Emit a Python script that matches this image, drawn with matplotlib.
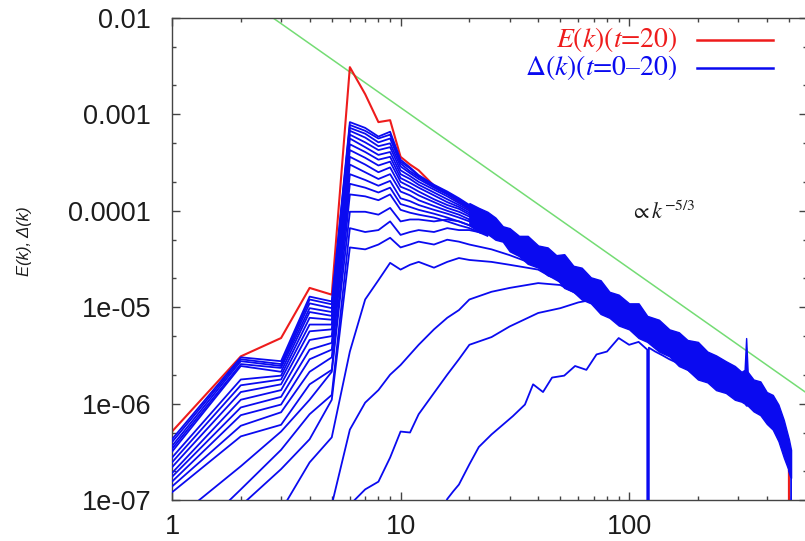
import numpy as np
import matplotlib
matplotlib.use("Agg")
import matplotlib.pyplot as plt
from matplotlib.lines import Line2D
from matplotlib.ticker import FixedLocator, NullFormatter, FixedFormatter

plt.rcParams['mathtext.fontset'] = 'stix'

# ---------------------------------------------------------------------------
# Spectra, stored as log10 of the spectral density
# ---------------------------------------------------------------------------
# energy spectrum E(k) at t = 20
k_red = [1, 2, 3, 4, 5, 6, 7, 8, 9, 10, 11, 12, 14, 16, 20, 30, 50, 100,
         200, 300, 400, 500, 512]
logE_red = [-6.29, -5.51, -5.32, -4.80, -4.87, -2.51, -2.79, -3.08, -3.06,
            -3.44, -3.52, -3.58, -3.74, -3.82, -3.99, -4.30, -4.61, -5.11,
            -5.54, -5.80, -6.01, -6.53, -30.0]

# error spectra Delta(k) for t = 8 ... 20 (low / intermediate k)
k_fan = [1, 2, 3, 4, 5, 6, 7, 8, 9, 10, 11, 12, 14, 16, 18, 20, 24]
logD_t20 = [-6.37, -5.52, -5.56, -4.89, -4.94, -3.08, -3.14, -3.23, -3.18, -3.47, -3.55, -3.63, -3.73, -3.80, -3.87, -3.94, -4.08]
logD_t19 = [-6.40, -5.54, -5.59, -4.92, -4.97, -3.11, -3.17, -3.25, -3.21, -3.49, -3.56, -3.64, -3.74, -3.81, -3.88, -3.95, -4.09]
logD_t18 = [-6.44, -5.56, -5.61, -4.96, -5.01, -3.14, -3.20, -3.29, -3.25, -3.51, -3.59, -3.65, -3.75, -3.82, -3.89, -3.96, -4.10]
logD_t17 = [-6.47, -5.59, -5.63, -5.01, -5.05, -3.17, -3.24, -3.33, -3.30, -3.54, -3.61, -3.67, -3.76, -3.83, -3.90, -3.97, -4.11]
logD_t16 = [-6.50, -5.61, -5.67, -5.05, -5.09, -3.21, -3.29, -3.37, -3.34, -3.58, -3.64, -3.70, -3.78, -3.85, -3.92, -3.98, -4.12]
logD_t15 = [-6.56, -5.75, -5.71, -5.11, -5.13, -3.25, -3.34, -3.42, -3.39, -3.62, -3.67, -3.73, -3.81, -3.88, -3.94, -4.00, -4.14]
logD_t14 = [-6.61, -5.81, -5.75, -5.18, -5.18, -3.31, -3.39, -3.47, -3.44, -3.66, -3.71, -3.76, -3.84, -3.91, -3.96, -4.02, -4.15]
logD_t13 = [-6.66, -5.88, -5.80, -5.25, -5.23, -3.37, -3.45, -3.53, -3.49, -3.70, -3.75, -3.80, -3.88, -3.94, -3.98, -4.04, -4.16]
logD_t12 = [-6.72, -5.96, -5.86, -5.34, -5.30, -3.44, -3.52, -3.60, -3.55, -3.75, -3.79, -3.84, -3.91, -3.97, -4.01, -4.06, -4.18]
logD_t11 = [-6.76, -6.04, -5.93, -5.44, -5.37, -3.52, -3.60, -3.67, -3.62, -3.80, -3.84, -3.89, -3.95, -4.00, -4.04, -4.09, -4.20]
logD_t10 = [-6.81, -6.12, -6.01, -5.54, -5.44, -3.62, -3.68, -3.74, -3.69, -3.87, -3.90, -3.94, -3.99, -4.03, -4.07, -4.11, -4.22]
logD_t09 = [-6.86, -6.23, -6.09, -5.67, -5.52, -3.72, -3.76, -3.81, -3.76, -3.93, -3.96, -3.99, -4.03, -4.07, -4.11, -4.15, -4.24]
logD_t08 = [-6.92, -6.34, -6.22, -5.80, -5.65, -3.83, -3.85, -3.89, -3.83, -3.99, -4.02, -4.04, -4.07, -4.11, -4.15, -4.18, -4.26]

# error spectra Delta(k) for t = 2 ... 7
k_mid = [1, 2, 3, 4, 5, 6, 7, 8, 9, 10, 11, 12, 14, 16, 18, 20, 25, 30, 40, 50, 60, 70]
logD_t07 = [-7.23, -6.65, -6.29, -5.96, -5.67, -4.01, -4.01, -4.04, -3.97, -4.11, -4.09, -4.09, -4.11, -4.09, -4.11, -4.15, -4.22, -4.30, -4.49, -4.66, -4.79, -4.90]
logD_t06 = [-7.58, -6.89, -6.48, -6.11, -5.91, -4.18, -4.22, -4.20, -4.11, -4.25, -4.22, -4.20, -4.22, -4.18, -4.20, -4.20, -4.25, -4.35, -4.53, -4.69, -4.82, -4.92]
logD_t05 = [-7.62, -7.06, -6.68, -6.37, -5.96, -4.38, -4.40, -4.35, -4.28, -4.38, -4.35, -4.32, -4.35, -4.30, -4.32, -4.35, -4.40, -4.46, -4.57, -4.72, -4.84, -4.94]
logD_t04 = [-8.03, -7.62, -7.11, -6.61, -6.35, -5.46, -4.92, -4.72, -4.54, -4.61, -4.56, -4.53, -4.59, -4.53, -4.49, -4.51, -4.53, -4.56, -4.61, -4.74, -4.86, -4.96]
logD_t03 = [-9.00, -9.00, -9.00, -9.00, -7.05, -6.27, -5.99, -5.86, -5.70, -5.60, -5.49, -5.39, -5.23, -5.11, -5.03, -4.92, -4.84, -4.80, -4.75, -4.77, -4.87, -4.97]
logD_t02 = [-9.00, -9.00, -9.00, -9.00, -9.00, -7.05, -6.89, -6.81, -6.56, -6.29, -6.30, -6.11, -5.89, -5.70, -5.54, -5.39, -5.31, -5.20, -5.06, -5.01, -4.95, -4.92]

# error spectrum Delta(k) for t = 1 (vanishing at k = 121)
k_t01 = [15, 16, 17, 18, 20, 22, 25, 28, 31, 35, 38, 42, 46, 52, 58, 65, 72,
         80, 90, 100, 110, 120, 121, 122, 130, 140, 150, 170, 200]
logD_t01 = [-7.15, -6.99, -6.91, -6.84, -6.63, -6.45, -6.32, -6.22, -6.13,
            -6.01, -5.80, -5.88, -5.73, -5.71, -5.61, -5.65, -5.49, -5.46,
            -5.32, -5.39, -5.36, -5.44, -30.0, -5.42, -5.46, -5.50, -5.54,
            -5.60, -5.73]

# saturated high-k range where all error spectra overlap (upper / lower envelope)
k_band = [20, 22, 24, 26, 28, 30, 33, 36, 40, 44, 48, 52, 57, 62, 68, 75, 82,
          90, 100, 110, 120, 135, 150, 165, 180, 200, 220, 240, 265, 290, 310,
          320, 325, 330, 350, 375, 400, 425, 450, 475, 500, 511]
logD_band_hi = [-3.92, -3.97, -4.01, -4.07, -4.16, -4.18, -4.26, -4.26, -4.36,
                -4.38, -4.46, -4.45, -4.57, -4.59, -4.69, -4.72, -4.84, -4.87,
                -4.96, -4.96, -5.09, -5.13, -5.23, -5.26, -5.34, -5.36, -5.46,
                -5.50, -5.56, -5.61, -5.67, -5.65, -5.32, -5.67, -5.75, -5.77,
                -5.88, -5.91, -6.01, -6.17, -6.37, -6.48]
logD_band_lo = [-4.15, -4.22, -4.24, -4.30, -4.32, -4.42, -4.47, -4.55, -4.59,
                -4.67, -4.70, -4.80, -4.84, -4.92, -4.96, -5.07, -5.11, -5.19,
                -5.23, -5.32, -5.36, -5.46, -5.51, -5.61, -5.65, -5.75, -5.78,
                -5.86, -5.89, -5.96, -5.98, -6.00, -6.02, -6.02, -6.08, -6.12,
                -6.21, -6.27, -6.39, -6.56, -6.70, -6.77]

# last resolved mode: spectrum drops to zero at the cutoff
k_cut = [500, 511, 512]
logD_cut = [-6.70, -6.77, -30.0]

# Kolmogorov reference slope k^(-5/3)
k_ref = [1, 600]
E_ref = [5.46e-2, 1.28e-6]

fan_curves = [logD_t08, logD_t09, logD_t10, logD_t11, logD_t12, logD_t13,
              logD_t14, logD_t15, logD_t16, logD_t17, logD_t18, logD_t19,
              logD_t20]
mid_curves = [logD_t02, logD_t03, logD_t04, logD_t05, logD_t06, logD_t07]

y_ticks = [1e-7, 1e-6, 1e-5, 1e-4, 1e-3, 1e-2]
y_ticklabels = ["1e-07", "1e-06", "1e-05", "0.0001", "0.001", "0.01"]
x_ticks = [1, 10, 100]
x_ticklabels = ["1", "10", "100"]

BLUE = "#0a0af0"
RED = "#ee1c1c"
GREEN = "#74dc74"
INK = "#1c1c1c"


def pw(vals):
    return 10.0 ** np.asarray(vals, dtype=float)


fig = plt.figure(figsize=(8.05, 5.41), dpi=100)
ax = fig.add_axes([172 / 805, 41 / 541, 635 / 805, 482 / 541])
ax.set_xscale("log")
ax.set_yscale("log")

ax.plot(k_ref, E_ref, color=GREEN, lw=1.1, zorder=1)
ax.plot(k_red, pw(logE_red), color=RED, lw=1.5, zorder=2)

ax.fill_between(k_band, pw(logD_band_lo), pw(logD_band_hi), color=BLUE,
                lw=1.0, edgecolor=BLUE, zorder=3)
ax.plot(k_cut, pw(logD_cut), color=BLUE, lw=1.3, zorder=3)
for c in fan_curves:
    ax.plot(k_fan, pw(c), color=BLUE, lw=1.3, zorder=3)
for c in mid_curves:
    ax.plot(k_mid, pw(c), color=BLUE, lw=1.3, zorder=3)
ax.plot(k_t01, pw(logD_t01), color=BLUE, lw=1.3, zorder=3)

ax.set_xlim(1, 600)
ax.set_ylim(1e-7, 1e-2)

ax.xaxis.set_major_locator(FixedLocator(x_ticks))
ax.xaxis.set_major_formatter(FixedFormatter(x_ticklabels))
ax.xaxis.set_minor_locator(FixedLocator([m * d for d in (1, 10, 100)
                                         for m in range(2, 10)]))
ax.xaxis.set_minor_formatter(NullFormatter())
ax.yaxis.set_major_locator(FixedLocator(y_ticks))
ax.yaxis.set_major_formatter(FixedFormatter(y_ticklabels))
ax.yaxis.set_minor_locator(FixedLocator([m * d for d in y_ticks[:-1]
                                         for m in (2, 5)]))
ax.yaxis.set_minor_formatter(NullFormatter())

for s in ax.spines.values():
    s.set_color("#444444")
    s.set_linewidth(1.0)
ax.tick_params(which="both", direction="in", top=True, right=True,
               color="#444444", width=1.0)
ax.tick_params(which="major", length=6)
ax.tick_params(which="minor", length=3)
ax.tick_params(axis="y", which="major", pad=15, labelsize=19.5, labelcolor=INK)
ax.tick_params(axis="x", which="major", pad=10, labelsize=19.5, labelcolor=INK)
for lab in ax.get_xticklabels() + ax.get_yticklabels():
    lab.set_family("Liberation Sans")

fig.text(25 / 805, 1 - 241 / 541, "E(k), Δ(k)", rotation=90, ha="center",
         va="center", fontsize=12, style="italic", family="Liberation Sans",
         color=INK)

# legend
fig.text(677 / 805, 1 - 40 / 541, r"$E(k)(t$=20)", ha="right", va="center",
         fontsize=20, family="STIXGeneral", color=RED)
fig.text(677 / 805, 1 - 68 / 541, r"$\mathit{\Delta}(k)(t$=0–20)", ha="right",
         va="center", fontsize=20, family="STIXGeneral", color=BLUE)
fig.add_artist(Line2D([697 / 805, 773 / 805], [1 - 40 / 541, 1 - 40 / 541],
                      color=RED, lw=1.8))
fig.add_artist(Line2D([697 / 805, 773 / 805], [1 - 68 / 541, 1 - 68 / 541],
                      color=BLUE, lw=1.8))

fig.text(630 / 805, 1 - 212 / 541, r"$\propto k^{-5/3}$", ha="left",
         va="center", fontsize=16, color=INK)

fig.savefig("out.png", dpi=100)
